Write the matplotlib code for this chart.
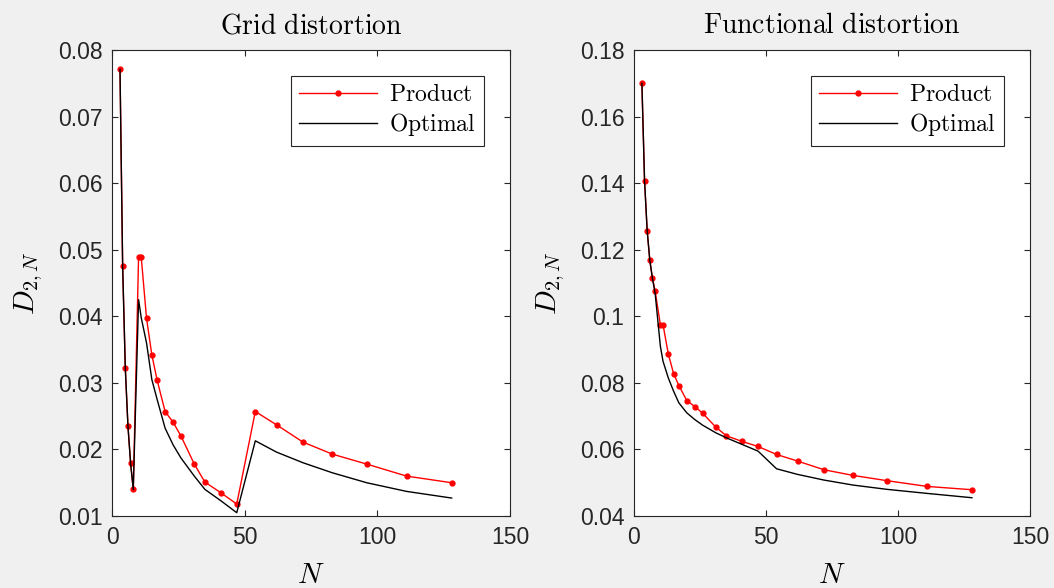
import matplotlib
matplotlib.use('Agg')
import matplotlib.pyplot as plt

plt.rcParams['mathtext.fontset'] = 'cm'
plt.rcParams['font.family'] = ['Liberation Sans', 'DejaVu Sans']

# number of quantization points
N = [3, 4, 5, 6, 7, 8, 10, 11, 13, 15, 17, 20, 23, 26, 31, 35, 41, 47,
     54, 62, 72, 83, 96, 111, 128]

# grid distortion
grid_product = [0.0771, 0.0475, 0.0322, 0.0235, 0.0179, 0.0140, 0.0489, 0.0489,
                0.0397, 0.0342, 0.0304, 0.0257, 0.0241, 0.0220, 0.0178, 0.0151,
                0.0135, 0.0118, 0.0257, 0.0237, 0.0211, 0.0193, 0.0178, 0.0160,
                0.0150]
grid_optimal = [0.0771, 0.0475, 0.0322, 0.0235, 0.0179, 0.0140, 0.0425, 0.0398,
                0.0360, 0.0305, 0.0275, 0.0232, 0.0207, 0.0187, 0.0160, 0.0140,
                0.0123, 0.0105, 0.0213, 0.0196, 0.0180, 0.0165, 0.0150, 0.0137,
                0.0127]

# functional distortion
func_product = [0.1700, 0.1408, 0.1257, 0.1168, 0.1114, 0.1076, 0.0975, 0.0975,
                0.0887, 0.0828, 0.0792, 0.0747, 0.0729, 0.0709, 0.0667, 0.0641,
                0.0624, 0.0609, 0.0585, 0.0565, 0.0539, 0.0522, 0.0506, 0.0489,
                0.0479]
func_optimal = [0.1700, 0.1408, 0.1257, 0.1168, 0.1114, 0.1070, 0.0910, 0.0865,
                0.0815, 0.0775, 0.0740, 0.0710, 0.0690, 0.0673, 0.0650, 0.0635,
                0.0615, 0.0595, 0.0542, 0.0525, 0.0508, 0.0493, 0.0480, 0.0468,
                0.0455]

axis_color = '#262626'

fig = plt.figure(figsize=(10.54, 5.88), dpi=100, facecolor='#f0f0f0')
ax1 = fig.add_axes([0.1063, 0.1224, 0.3776, 0.7925])
ax2 = fig.add_axes([0.6015, 0.1224, 0.3757, 0.7925])


def draw_panel(ax, product, optimal, title, ylim, yticks, yfmt):
    ax.plot(N, product, color='red', lw=1.0, marker='o', markersize=3.5,
            label=r'$\mathrm{Product}$')
    ax.plot(N, optimal, color='black', lw=1.0, label=r'$\mathrm{Optimal}$')
    ax.set_xlim(0, 150)
    ax.set_ylim(*ylim)
    ax.set_xticks([0, 50, 100, 150])
    ax.set_yticks(yticks)
    ax.set_yticklabels([yfmt(v) for v in yticks])
    ax.tick_params(direction='in', top=True, right=True, length=4, width=0.8,
                   labelsize=16.5, colors=axis_color, labelcolor=axis_color, pad=7)
    for s in ax.spines.values():
        s.set_color(axis_color)
        s.set_linewidth(0.8)
    ax.set_title(r'$\mathrm{' + title.replace(' ', r'\ ') + '}$', fontsize=20, pad=12)
    ax.set_xlabel(r'$N$', fontsize=21, labelpad=9)
    ax.set_ylabel(r'$D_{2,N}$', fontsize=21, labelpad=9)
    leg = ax.legend(loc='upper right', fontsize=17, fancybox=False, framealpha=1,
                    edgecolor=axis_color, handlelength=3.3, borderaxespad=1.1,
                    labelspacing=0.2, borderpad=0.35, handletextpad=0.5)
    leg.get_frame().set_linewidth(0.8)


draw_panel(ax1, grid_product, grid_optimal, 'Grid distortion', (0.01, 0.08),
           [0.01, 0.02, 0.03, 0.04, 0.05, 0.06, 0.07, 0.08], lambda v: '%.2f' % v)
draw_panel(ax2, func_product, func_optimal, 'Functional distortion', (0.04, 0.18),
           [0.04, 0.06, 0.08, 0.1, 0.12, 0.14, 0.16, 0.18], lambda v: '%g' % v)

fig.savefig('out.png', dpi=100, facecolor=fig.get_facecolor())
